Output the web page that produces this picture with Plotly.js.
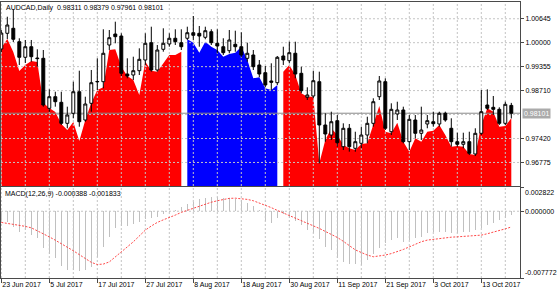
<!DOCTYPE html>
<html><head><meta charset="utf-8">
<script src="https://cdn.plot.ly/plotly-3.0.1.min.js"></script>
<style>html,body{margin:0;padding:0;background:#fff;}#chart{width:560px;height:294px;}</style>
</head><body><div id="chart"></div>
<script>
const symbol = 'AUDCAD,Daily';
const dates = [
'2017-06-23','2017-06-26','2017-06-27','2017-06-28','2017-06-29','2017-06-30',
'2017-07-03','2017-07-04','2017-07-05','2017-07-06','2017-07-07',
'2017-07-10','2017-07-11','2017-07-12','2017-07-13','2017-07-14',
'2017-07-17','2017-07-18','2017-07-19','2017-07-20','2017-07-21',
'2017-07-24','2017-07-25','2017-07-26','2017-07-27','2017-07-28',
'2017-07-31','2017-08-01','2017-08-02','2017-08-03','2017-08-04',
'2017-08-07','2017-08-08','2017-08-09','2017-08-10','2017-08-11',
'2017-08-14','2017-08-15','2017-08-16','2017-08-17','2017-08-18',
'2017-08-21','2017-08-22','2017-08-23','2017-08-24','2017-08-25',
'2017-08-28','2017-08-29','2017-08-30','2017-08-31','2017-09-01',
'2017-09-04','2017-09-05','2017-09-06','2017-09-07','2017-09-08',
'2017-09-11','2017-09-12','2017-09-13','2017-09-14','2017-09-15',
'2017-09-18','2017-09-19','2017-09-20','2017-09-21','2017-09-22',
'2017-09-25','2017-09-26','2017-09-27','2017-09-28','2017-09-29',
'2017-10-02','2017-10-03','2017-10-04','2017-10-05','2017-10-06',
'2017-10-09','2017-10-10','2017-10-11','2017-10-12','2017-10-13',
'2017-10-16','2017-10-17','2017-10-18','2017-10-19','2017-10-20'];

const open = [
0.9983,1.00253,1.00388,1.00027,0.99607,0.99892,0.99588,0.9958,0.98233,0.98546,
0.98395,0.97829,0.98099,0.9868,0.97918,0.98368,0.98945,0.9895,0.99938,1.00234,
1.0018,0.99157,0.9913,0.99246,0.99534,1.0,0.99265,0.99822,0.99965,1.00119,
1.0,1.00119,1.00269,1.00253,1.00145,1.00296,0.99984,0.99892,0.99785,0.99957,
0.99892,0.9958,0.99669,0.994,0.99192,0.98969,0.98923,0.99642,0.99515,0.99715,
0.99176,0.9853,0.98565,0.9895,0.97784,0.97514,0.979,0.97199,0.97695,0.97156,
0.97291,0.97514,0.97829,0.98546,0.9895,0.97603,0.9808,0.98188,0.97334,0.97918,
0.9756,0.97811,0.97872,0.97811,0.98099,0.97695,0.97334,0.97264,0.97334,0.97003,
0.9756,0.98322,0.9826,0.98206,0.97829,0.98311];
const high = [
1.0034,1.0070,1.0090,1.00119,1.00073,1.00073,0.99822,0.99803,0.98745,0.9868,
0.9868,0.98277,0.9895,0.99246,0.98546,0.99265,0.9958,1.00361,1.00342,1.00566,
1.00253,0.9958,0.99623,0.99849,1.00253,1.00431,0.99938,1.00388,1.00253,1.00361,
1.00361,1.00431,1.00719,1.0045,1.00431,1.00361,1.00361,1.00119,1.00342,1.00323,
1.0028,1.0,0.99803,0.99534,0.99373,0.99445,0.99642,0.99892,1.00027,1.00027,
0.99354,0.98799,0.99246,0.99219,0.98099,0.98142,0.98053,0.97829,0.97811,0.97603,
0.97738,0.98007,0.98503,0.99103,0.99041,0.98368,0.98411,0.98277,0.98053,0.98053,
0.98277,0.98053,0.98142,0.98142,0.98142,0.97964,0.97576,0.97576,0.97603,0.97695,
0.98726,0.98745,0.98565,0.9826,0.98411,0.98379];
const low = [
0.9975,1.0010,1.00019,0.9940,0.99453,0.99488,0.99354,0.98277,0.98142,0.98277,
0.97784,0.97695,0.97964,0.97738,0.97872,0.98142,0.98726,0.98772,0.99803,0.99984,
0.99103,0.99041,0.98996,0.9913,0.994,0.99219,0.99219,0.99758,0.99892,0.99938,
0.99803,1.00073,1.00073,0.99892,1.00092,0.99938,0.99715,0.99669,0.99715,0.99758,
0.99607,0.99488,0.99265,0.99068,0.98799,0.98726,0.98861,0.994,0.99445,0.99041,
0.98637,0.98457,0.98503,0.96752,0.97334,0.9738,0.97199,0.9711,0.97065,0.97065,
0.97156,0.97291,0.97738,0.98457,0.97649,0.97514,0.97918,0.97291,0.9711,0.97425,
0.9738,0.97695,0.97738,0.97738,0.97872,0.97199,0.97199,0.97156,0.96976,0.96949,
0.97514,0.98188,0.98053,0.97784,0.97784,0.97961];
const close = [
1.0026,1.00477,1.00092,0.99607,0.99892,0.99623,0.99572,0.98322,0.98546,0.98411,
0.97829,0.98053,0.9868,0.97872,0.98349,0.98923,0.98955,0.99715,1.00135,1.00162,
0.99176,0.99103,0.99246,0.99553,0.99984,0.99265,0.99803,0.99984,1.00119,1.00027,
0.99892,1.00269,1.00199,1.0018,1.00323,1.0,0.99911,0.99731,1.00073,0.99892,
0.99669,0.99715,0.99354,0.99157,0.98861,0.98934,0.99607,0.99534,0.99731,0.99157,
0.98707,0.98592,0.98977,0.97784,0.97541,0.97872,0.97307,0.97695,0.97199,0.97334,
0.97514,0.97829,0.98411,0.98969,0.97695,0.98206,0.98188,0.97334,0.97937,0.9756,
0.97649,0.979,0.97819,0.98099,0.97918,0.97334,0.97264,0.97334,0.97021,0.9756,
0.98142,0.98233,0.98206,0.97829,0.98341,0.98101];

const areaVals = [
0.99857,1.0010,0.9975,0.99238,0.994,0.99507,0.9948,0.98376,0.98241,0.98134,
0.97811,0.97649,0.97864,0.97353,0.97918,0.98376,0.98726,0.98799,0.99803,0.99822,
0.99354,0.99103,0.98996,0.98592,0.99488,0.99246,0.99219,0.99445,0.99669,0.99669,
0.99758,1.00092,1.0,0.99731,1.00027,0.99892,0.99803,0.99623,0.99696,0.99731,
0.99892,0.99534,0.99041,0.99068,0.98772,0.98726,0.98861,0.99219,0.994,0.9913,
0.98637,0.98546,0.98546,0.96752,0.9738,0.97695,0.97514,0.97245,0.97156,0.9711,
0.97272,0.97291,0.97784,0.98295,0.97603,0.9756,0.97846,0.97334,0.97065,0.97425,
0.97334,0.97603,0.9763,0.97784,0.97514,0.97199,0.97218,0.97199,0.97003,0.96976,
0.97784,0.98233,0.98142,0.97738,0.97757,0.97964];
// D = down (red), U = up (blue)
const trend = 'DDDDDDDDDDDDDDDDDDDDDDDDDDDDDDDUUUUUUUUUUUUUUUUDDDDDDDDDDDDDDDDDDDDDDDDDDDDDDDDDDDDDDD'.split('');

const macd = [
-0.00103,-0.00123,-0.00181,-0.00239,-0.0022,-0.00278,-0.0031,-0.00426,-0.00492,-0.0055,
-0.0064,-0.00679,-0.00679,-0.00698,-0.00687,-0.00648,-0.00531,-0.00415,-0.00298,-0.002,
-0.00169,-0.00169,-0.00153,-0.00123,-0.00091,-0.00076,-0.00064,-0.00036,-0.00013,0.0002,
0.0005,0.0008,0.0011,0.0014,0.0016,0.0017,0.0017,0.0016,0.0016,0.0014,
0.0013,0.001,0.0006,0.0002,-0.0011,-0.0014,-0.0008,-0.00036,-0.00083,-0.00114,
-0.00161,-0.0022,-0.00258,-0.00328,-0.00415,-0.00453,-0.0055,-0.0059,-0.00609,-0.0062,
-0.00628,-0.0057,-0.00503,-0.00433,-0.00375,-0.00336,-0.00317,-0.00356,-0.00336,-0.00317,
-0.00298,-0.00258,-0.00239,-0.00239,-0.00239,-0.00258,-0.00258,-0.00239,-0.00239,-0.0022,
-0.002,-0.00161,-0.00141,-0.0010,-0.0008,-0.000388];
const signal = [
-0.0013,-0.0014,-0.0015,-0.00162,-0.00176,-0.00193,-0.00225,-0.0026,-0.00298,-0.00337,
-0.00376,-0.00415,-0.0046,-0.00505,-0.0055,-0.00595,-0.0062,-0.00615,-0.0059,-0.00535,
-0.00473,-0.00415,-0.00356,-0.0029,-0.0022,-0.00172,-0.0013,-0.001,-0.00076,-0.00045,
-0.00013,0.00012,0.00034,0.0006,0.00085,0.00105,0.00122,0.00138,0.0015,0.00152,
0.00148,0.00138,0.00122,0.00098,0.00072,0.00042,0.0001,-0.0002,-0.0005,-0.00078,
-0.00103,-0.00135,-0.00168,-0.002,-0.00235,-0.0027,-0.00305,-0.0035,-0.004,-0.0045,
-0.0048,-0.0051,-0.0053,-0.00523,-0.0051,-0.00493,-0.00473,-0.00445,-0.00415,-0.00385,
-0.00355,-0.00336,-0.00326,-0.00317,-0.00307,-0.00302,-0.00298,-0.00292,-0.00288,-0.00283,
-0.00278,-0.00262,-0.0024,-0.00225,-0.00205,-0.001833];

const priceTicks = [1.00645, 1.00000, 0.99355, 0.98710, 0.97420, 0.96775];
const priceGrid  = [1.00645, 1.00000, 0.99355, 0.98710, 0.98065, 0.97420, 0.96775];
const macdTicks  = [0.002822, 0.000000, -0.007772];
const tickDates = ['2017-06-23','2017-07-05','2017-07-17','2017-07-27','2017-08-08','2017-08-18',
                   '2017-08-30','2017-09-11','2017-09-21','2017-10-03','2017-10-13'];
const tickText  = ['23 Jun 2017','5 Jul 2017','17 Jul 2017','27 Jul 2017','8 Aug 2017','18 Aug 2017',
                   '30 Aug 2017','11 Sep 2017','21 Sep 2017','3 Oct 2017','13 Oct 2017'];

// ---------- build ----------
const FONT = 'Liberation Sans, Arial, sans-serif';
const idx = dates.map((d, i) => i);
const last = dates.length - 1;
const xr = [-0.05, 86.45];
const yMain = [0.96141, 1.01096];
const yMacd = [-0.007772, 0.002822];
const tickIdx = tickDates.map(d => dates.indexOf(d));
const gridIdx = idx.filter(i => i % 4 === 0);
const GRID = {color: '#c4c4c4', width: 1, dash: '2px,2px'};

function vLines(xs, yr) {
  const x = [], y = [];
  xs.forEach(v => { x.push(v, v, null); y.push(yr[0], yr[1], null); });
  return {x, y};
}
function hLines(ys, xrange) {
  const x = [], y = [];
  ys.forEach(v => { x.push(xrange[0], xrange[1], null); y.push(v, v, null); });
  return {x, y};
}

const traces = [];
let start = 0;
for (let i = 1; i <= dates.length; i++) {
  if (i === dates.length || trend[i] !== trend[start]) {
    const col = trend[start] === 'U' ? '#0000ff' : '#ff0000';
    traces.push({type: 'scatter', mode: 'lines', x: idx.slice(start, i), y: areaVals.slice(start, i),
      fill: 'tozeroy', fillcolor: col, line: {width: 0, color: col}, xaxis: 'x2', yaxis: 'y2', hoverinfo: 'skip'});
    start = i;
  }
}
const mv = vLines(gridIdx, yMain), mh = hLines(priceGrid, xr);
traces.push({type: 'scatter', mode: 'lines', x: mv.x.concat(mh.x), y: mv.y.concat(mh.y), line: GRID,
  xaxis: 'x2', yaxis: 'y2', hoverinfo: 'skip', connectgaps: false});
traces.push({type: 'scatter', mode: 'lines', x: xr, y: [close[last], close[last]],
  line: {color: '#8a8a8a', width: 1}, xaxis: 'x2', yaxis: 'y2', hoverinfo: 'skip'});
traces.push({type: 'candlestick', x: idx, open: open, high: high, low: low, close: close,
  xaxis: 'x2', yaxis: 'y3', whiskerwidth: 0, hoverinfo: 'skip',
  increasing: {line: {color: '#000000', width: 1}, fillcolor: '#ffffff'},
  decreasing: {line: {color: '#000000', width: 1}, fillcolor: '#000000'}});
const gv = vLines(gridIdx, yMacd), gh = hLines([0], xr);
traces.push({type: 'scatter', mode: 'lines', x: gv.x.concat(gh.x), y: gv.y.concat(gh.y), line: GRID,
  xaxis: 'x', yaxis: 'y', hoverinfo: 'skip'});
traces.push({type: 'bar', x: idx, y: macd, width: 0.18, marker: {color: '#c0c0c0', line: {width: 0}},
  xaxis: 'x', yaxis: 'y', hoverinfo: 'skip'});
traces.push({type: 'scatter', mode: 'lines', x: idx, y: signal,
  line: {color: 'rgba(255,40,40,0.85)', width: 1, dash: '2px,1.5px'}, xaxis: 'x', yaxis: 'y', hoverinfo: 'skip'});

const LINE = '#4a4a4a';
const f5 = v => v.toFixed(5);
const annotations = [
  {xref: 'paper', yref: 'paper', x: 0, y: 1, xanchor: 'left', yanchor: 'top', xshift: 3, yshift: 0,
   showarrow: false, font: {family: FONT, size: 7, color: '#000'},
   text: symbol + '\u00a0\u00a0' + [open[last], high[last], low[last], close[last]].map(f5).join(' ')},
  {xref: 'paper', yref: 'paper', x: 0, y: 0.3297, xanchor: 'left', yanchor: 'top', xshift: 2, yshift: -1,
   showarrow: false, font: {family: FONT, size: 7, color: '#000'},
   text: 'MACD(12,26,9) ' + macd[last].toFixed(6) + ' ' + signal[last].toFixed(6)},
  {xref: 'paper', yref: 'y2', x: 1, y: close[last], xanchor: 'left', yanchor: 'middle', xshift: 2,
   showarrow: false, bgcolor: '#ababab', borderpad: 1, font: {family: FONT, size: 7, color: '#ffffff'},
   text: f5(close[last])}
];
macdTicks.forEach((v, i) => {
  annotations.push({xref: 'paper', yref: 'y', x: 1, y: v, xanchor: 'left',
    yanchor: i === 0 ? 'top' : (i === macdTicks.length - 1 ? 'bottom' : 'middle'),
    xshift: 3, showarrow: false, font: {family: FONT, size: 7, color: '#000'}, text: v.toFixed(6)});
});

const layout = {
  width: 560, height: 294, margin: {l: 1, r: 40, t: 2, b: 16},
  paper_bgcolor: '#ffffff', plot_bgcolor: '#ffffff', showlegend: false, hovermode: false,
  bargap: 0,
  xaxis: {domain: [0, 1], anchor: 'y', range: xr, tickmode: 'array', tickvals: tickIdx, ticktext: tickText,
    ticks: 'outside', ticklen: 4, tickcolor: LINE, showline: true, linecolor: LINE, linewidth: 1, mirror: true,
    showgrid: false, zeroline: false, ticklabelposition: 'outside right', tickangle: 0,
    tickfont: {family: FONT, size: 7, color: '#000'}, rangeslider: {visible: false}},
  xaxis2: {anchor: 'y2', matches: 'x', range: xr, showticklabels: false, ticks: '', showline: true,
    linecolor: LINE, linewidth: 1, mirror: true, showgrid: false, zeroline: false, rangeslider: {visible: false}},
  yaxis: {domain: [0, 0.3297], anchor: 'x', range: yMacd, side: 'right', tickmode: 'array', tickvals: macdTicks,
    showticklabels: false, ticks: 'outside', ticklen: 3, tickcolor: LINE, showline: true, linecolor: LINE,
    mirror: true, showgrid: false, zeroline: false},
  yaxis2: {domain: [0.33333, 1], anchor: 'x2', range: yMain, side: 'right', tickmode: 'array',
    tickvals: priceTicks, ticktext: priceTicks.map(f5), ticks: 'outside', ticklen: 3, tickcolor: LINE,
    showline: true, linecolor: LINE, mirror: true, showgrid: false, zeroline: false,
    tickfont: {family: FONT, size: 7, color: '#000'}},
  yaxis3: {overlaying: 'y2', anchor: 'x2', range: yMain, visible: false},
  annotations: annotations
};

Plotly.newPlot('chart', traces, layout, {staticPlot: true, displayModeBar: false});
</script>
</body></html>
